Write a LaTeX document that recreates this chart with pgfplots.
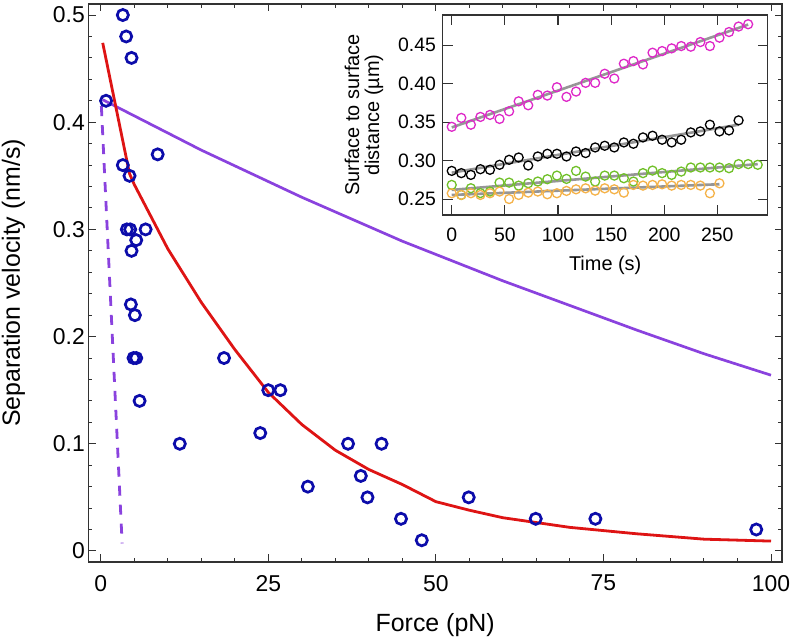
\documentclass[border=0pt]{standalone}
\usepackage{fontspec}
\setmainfont{Liberation Sans}
\usepackage{pgfplots}
\pgfplotsset{compat=1.18}
\definecolor{cblue}{RGB}{12,12,170}
\definecolor{cred}{RGB}{222,20,20}
\definecolor{cpurple}{RGB}{138,66,222}
\definecolor{cmag}{RGB}{222,40,200}
\definecolor{cgreen}{RGB}{112,192,40}
\definecolor{corange}{RGB}{245,178,72}
\definecolor{cgray}{RGB}{150,150,150}
\definecolor{cframe}{RGB}{50,50,50}
\begin{document}
\begin{tikzpicture}
\useasboundingbox (0,0) rectangle (793bp,640bp);
\begin{axis}[
  at={(88.3bp,78bp)}, anchor=south west, scale only axis,
  width=693.7bp, height=558bp,
  xmin=-1.85, xmax=101.64, ymin=-0.0103, ymax=0.5103,
  clip=false,
  xtick={0,25,50,75,100}, ytick={0,0.1,0.2,0.3,0.4,0.5},
  minor x tick num=4, minor y tick num=4,
  major tick length=7.5bp, minor tick length=4bp,
  tick style={line width=1bp, color=cframe},
  axis line style={line width=1.3bp, cframe},
  /pgf/number format/assume math mode=true,
  ticklabel style={font=\fontsize{23}{27}\selectfont},
  yticklabel style={/pgf/number format/fixed, /pgf/number format/precision=1, inner sep=3.3bp},
  xticklabel style={inner sep=0pt, yshift=-13bp},
  label style={font=\fontsize{25}{30}\selectfont},
  xlabel={Force (pN)},
  ylabel={Separation velocity (nm/s)},
  xlabel style={at={(axis description cs:0.5,-0.125)}, anchor=base},
  ylabel style={at={(axis description cs:-0.0985,0.5)}, anchor=base},
]
\addplot[cpurple, line width=2.8bp, dash pattern=on 10bp off 9bp] coordinates {(0.1,0.415) (3.2,0.007)};
\addplot[cpurple, line width=2.7bp] coordinates {
(0.3,0.421) (15,0.374) (30,0.330) (45,0.289) (60,0.252) (70,0.229) (80,0.206) (90,0.184) (100,0.164)};
\addplot[cred, line width=2.8bp] coordinates {
(0.3,0.474) (4.3,0.352) (5,0.342) (10,0.282) (15,0.232) (20,0.188) (25,0.148) (30,0.118)
(35,0.094) (40,0.076) (45,0.062) (50,0.046) (55,0.038) (60,0.031) (70,0.022) (80,0.016)
(90,0.011) (100,0.0092)};
\addplot[only marks, cblue, mark=o, mark size=5.6bp, mark options={line width=2.7bp}] coordinates {
(3.3,0.50) (3.8,0.48) (4.6,0.46) (0.8,0.42) (8.5,0.37) (3.3,0.36) (4.3,0.35)
(3.9,0.30) (4.4,0.30) (6.7,0.30) (5.3,0.29) (4.6,0.28) (4.5,0.23) (5.1,0.22)
(4.9,0.18) (5.3,0.18) (5.8,0.14) (11.8,0.10) (18.4,0.18) (25.0,0.15) (26.8,0.15)
(23.8,0.11) (30.9,0.06) (36.9,0.10) (38.8,0.07) (39.8,0.05) (41.9,0.10) (44.8,0.03)
(47.9,0.01) (54.9,0.05) (64.9,0.03) (73.8,0.03) (97.8,0.02)};
\end{axis}

\begin{axis}[
  at={(442.7bp,425bp)}, anchor=south west, scale only axis,
  width=325bp, height=200bp,
  xmin=-8.5, xmax=297.4, ymin=0.2296, ymax=0.489,
  axis background/.style={fill=white},
  xtick={0,50,100,150,200,250}, ytick={0.25,0.30,0.35,0.40,0.45},
  major tick length=10bp,
  tick style={line width=1.1bp, color=cframe},
  axis line style={line width=1.3bp, cframe},
  /pgf/number format/assume math mode=true,
  ticklabel style={font=\fontsize{19.5}{23}\selectfont},
  yticklabel style={/pgf/number format/fixed, /pgf/number format/fixed zerofill, /pgf/number format/precision=2, inner sep=6.5bp},
  xticklabel style={inner sep=0pt, yshift=-12.7bp},
  label style={font=\fontsize{20}{20}\selectfont},
  xlabel={Time (s)},
  ylabel={Surface to surface\\distance (µm)},
  xlabel style={at={(axis description cs:0.5,-0.2785)}, anchor=base},
  ylabel style={at={(axis description cs:-0.242,0.5)}, anchor=center, align=center},
]
\addplot[only marks, cmag, mark=o, mark size=4.5bp, mark options={line width=1.3bp}] coordinates {
(0,0.344) (9,0.3555) (18,0.3467) (27,0.3568) (36,0.3594) (45,0.3542) (54,0.3641) (63,0.377)
(72,0.3719) (81,0.3854) (90,0.3845) (99,0.3953) (108,0.3828) (117,0.3897) (126,0.401) (135,0.401)
(144,0.4128) (153,0.4066) (162,0.4258) (171,0.4292) (180,0.4249) (189,0.4401) (198,0.4422) (207,0.4457)
(216,0.4487) (225,0.4479) (234,0.4539) (243,0.4487) (252,0.4596) (261,0.4669) (270,0.474) (279,0.477)};
\addplot[only marks, black, mark=o, mark size=4.5bp, mark options={line width=1.3bp}] coordinates {
(0,0.2868) (9,0.2839) (18,0.2816) (27,0.289) (36,0.2882) (45,0.2947) (54,0.3012) (63,0.3042)
(72,0.2938) (81,0.3055) (90,0.309) (99,0.309) (108,0.3055) (117,0.312) (126,0.3099) (135,0.3172)
(144,0.3194) (153,0.3172) (162,0.3237) (171,0.322) (180,0.3302) (189,0.3324) (198,0.3272) (207,0.3237)
(216,0.3272) (225,0.3367) (234,0.338) (243,0.3467) (252,0.338) (261,0.3393) (270,0.3523)};
\addplot[only marks, cgreen, mark=o, mark size=4.5bp, mark options={line width=1.3bp}] coordinates {
(0,0.2686) (9,0.2556) (18,0.2643) (27,0.2580) (36,0.2600) (45,0.2716) (54,0.2716) (63,0.2677)
(72,0.2708) (81,0.273) (90,0.276) (99,0.2807) (108,0.2764) (117,0.2868) (126,0.2794) (135,0.273)
(144,0.2807) (153,0.2807) (162,0.2773) (171,0.273) (180,0.2839) (189,0.2872) (198,0.2839) (207,0.2816)
(216,0.2859) (225,0.2912) (234,0.2912) (243,0.2912) (252,0.2912) (261,0.2903) (270,0.2956) (279,0.2956)
(288,0.2947)};
\addplot[only marks, corange, mark=o, mark size=4.5bp, mark options={line width=1.3bp}] coordinates {
(0,0.2578) (9,0.2556) (18,0.2578) (27,0.2556) (36,0.2578) (45,0.26) (54,0.2503) (63,0.2556)
(72,0.2586) (81,0.26) (90,0.2565) (99,0.2578) (108,0.2608) (117,0.2629) (126,0.2642) (135,0.2612)
(144,0.2642) (153,0.2629) (162,0.2586) (171,0.2686) (180,0.2677) (189,0.2686) (198,0.2694) (207,0.2677)
(216,0.2686) (225,0.2686) (234,0.2677) (243,0.2578) (252,0.2707)};
\addplot[cgray, line width=2.6bp] coordinates {(0,0.3432) (279,0.4765)};
\addplot[cgray, line width=2.6bp] coordinates {(0,0.2845) (270,0.3467)};
\addplot[cgray, line width=2.6bp] coordinates {(0,0.2621) (288,0.2956)};
\addplot[cgray, line width=2.6bp] coordinates {(0,0.2556) (252,0.2695)};
\end{axis}
\end{tikzpicture}
\end{document}
